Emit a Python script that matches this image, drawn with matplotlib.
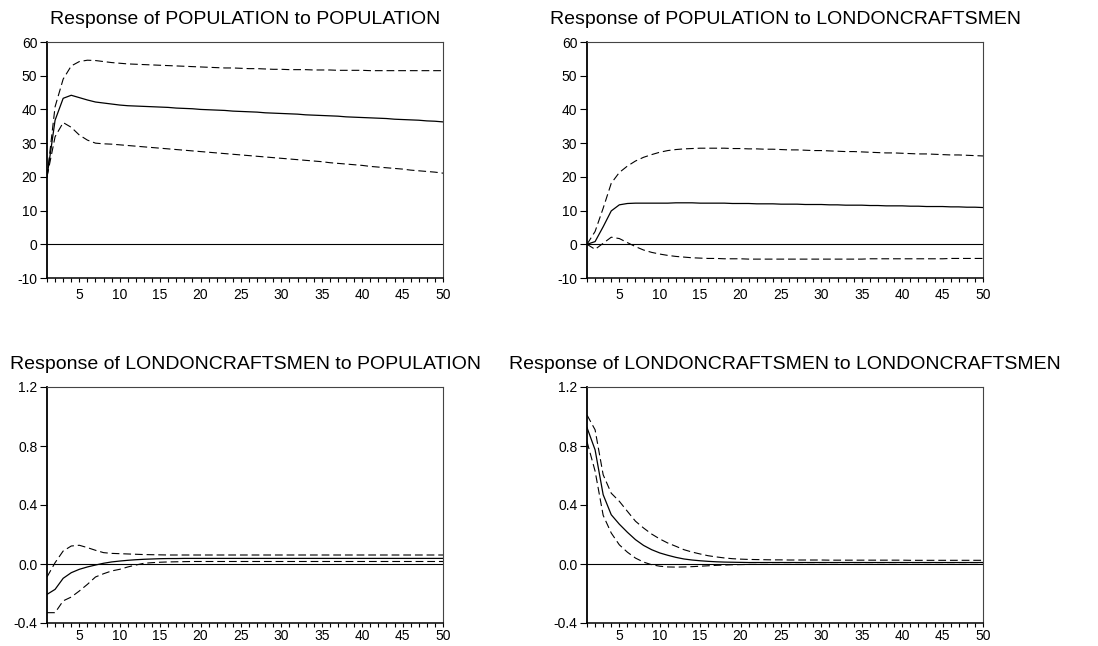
import matplotlib
matplotlib.use("Agg")
import matplotlib.pyplot as plt
from matplotlib.ticker import MultipleLocator, FixedLocator
import numpy as np

plt.rcParams["font.family"] = ["Liberation Sans", "DejaVu Sans"]
plt.rcParams["axes.unicode_minus"] = False

periods = np.arange(1, 51)

# Response of POPULATION to POPULATION
pop_pop = [20.0, 36.8, 43.3, 44.2, 43.5, 42.8, 42.2, 41.9, 41.6, 41.3,
           41.1, 41.0, 40.9, 40.8, 40.7, 40.6, 40.4, 40.3, 40.2, 40.0,
           39.9, 39.8, 39.7, 39.5, 39.4, 39.3, 39.2, 39.0, 38.9, 38.8,
           38.7, 38.6, 38.4, 38.3, 38.2, 38.1, 38.0, 37.8, 37.7, 37.6,
           37.5, 37.4, 37.3, 37.1, 37.0, 36.9, 36.8, 36.6, 36.5, 36.3]
pop_pop_hi = [20.0, 40.8, 49.0, 52.9, 54.2, 54.6, 54.5, 54.2, 53.9, 53.7,
              53.5, 53.4, 53.3, 53.2, 53.1, 53.0, 52.9, 52.8, 52.7, 52.6,
              52.5, 52.4, 52.3, 52.3, 52.2, 52.1, 52.1, 52.0, 51.9, 51.9,
              51.8, 51.8, 51.8, 51.7, 51.7, 51.7, 51.6, 51.6, 51.6, 51.6,
              51.5, 51.5, 51.5, 51.5, 51.5, 51.5, 51.5, 51.5, 51.5, 51.5]
pop_pop_lo = [20.0, 31.9, 36.1, 34.7, 32.4, 30.9, 30.0, 29.8, 29.7, 29.5,
              29.3, 29.1, 28.9, 28.7, 28.5, 28.3, 28.1, 27.9, 27.7, 27.5,
              27.3, 27.1, 26.9, 26.7, 26.5, 26.3, 26.1, 25.9, 25.7, 25.5,
              25.3, 25.1, 24.9, 24.7, 24.5, 24.2, 24.0, 23.8, 23.6, 23.4,
              23.1, 22.9, 22.7, 22.5, 22.3, 22.0, 21.8, 21.6, 21.4, 21.1]

# Response of POPULATION to LONDONCRAFTSMEN
pop_lon = [0.0, 0.8, 5.2, 9.9, 11.7, 12.1, 12.2, 12.2, 12.2, 12.2,
           12.2, 12.3, 12.3, 12.3, 12.2, 12.2, 12.2, 12.2, 12.1, 12.1,
           12.1, 12.0, 12.0, 12.0, 11.9, 11.9, 11.9, 11.8, 11.8, 11.8,
           11.7, 11.7, 11.6, 11.6, 11.6, 11.5, 11.5, 11.4, 11.4, 11.4,
           11.3, 11.3, 11.2, 11.2, 11.2, 11.1, 11.1, 11.0, 11.0, 10.9]
pop_lon_hi = [0.0, 3.8, 10.7, 18.1, 21.3, 23.2, 24.7, 25.8, 26.6, 27.3,
              27.8, 28.1, 28.3, 28.4, 28.5, 28.5, 28.5, 28.5, 28.4, 28.4,
              28.3, 28.3, 28.2, 28.2, 28.1, 28.0, 28.0, 27.9, 27.8, 27.8,
              27.7, 27.6, 27.5, 27.5, 27.4, 27.3, 27.2, 27.1, 27.1, 27.0,
              26.9, 26.8, 26.8, 26.7, 26.6, 26.5, 26.5, 26.4, 26.3, 26.2]
pop_lon_lo = [0.0, -1.5, 0.3, 2.1, 1.7, 0.5, -0.7, -1.7, -2.4, -2.9,
              -3.3, -3.6, -3.8, -4.0, -4.1, -4.2, -4.2, -4.3, -4.3, -4.3,
              -4.4, -4.4, -4.4, -4.4, -4.4, -4.4, -4.4, -4.4, -4.4, -4.4,
              -4.4, -4.4, -4.4, -4.4, -4.4, -4.3, -4.3, -4.3, -4.3, -4.3,
              -4.3, -4.3, -4.3, -4.3, -4.3, -4.2, -4.2, -4.2, -4.2, -4.2]

# Response of LONDONCRAFTSMEN to POPULATION
lon_pop = [-0.206, -0.172, -0.097, -0.059, -0.036, -0.020, -0.007, 0.005, 0.014, 0.020,
           0.025, 0.029, 0.032, 0.034, 0.036, 0.037, 0.037, 0.038, 0.038, 0.038,
           0.038, 0.038, 0.038, 0.038, 0.038, 0.038, 0.038, 0.038, 0.038, 0.038,
           0.038, 0.038, 0.038, 0.038, 0.038, 0.038, 0.038, 0.038, 0.038, 0.038,
           0.038, 0.038, 0.038, 0.038, 0.038, 0.038, 0.038, 0.038, 0.038, 0.038]
lon_pop_hi = [-0.088, 0.009, 0.088, 0.122, 0.127, 0.111, 0.093, 0.077, 0.072, 0.070,
              0.068, 0.066, 0.064, 0.063, 0.062, 0.061, 0.061, 0.061, 0.061, 0.061,
              0.061, 0.061, 0.061, 0.061, 0.061, 0.061, 0.061, 0.061, 0.061, 0.061,
              0.061, 0.061, 0.061, 0.061, 0.061, 0.061, 0.061, 0.061, 0.061, 0.061,
              0.061, 0.061, 0.061, 0.061, 0.061, 0.061, 0.061, 0.061, 0.061, 0.061]
lon_pop_lo = [-0.330, -0.330, -0.250, -0.224, -0.183, -0.138, -0.088, -0.066, -0.047, -0.036,
              -0.020, -0.007, 0.005, 0.009, 0.012, 0.014, 0.015, 0.016, 0.017, 0.017,
              0.017, 0.017, 0.017, 0.017, 0.017, 0.017, 0.017, 0.017, 0.017, 0.017,
              0.017, 0.017, 0.017, 0.017, 0.017, 0.017, 0.017, 0.017, 0.017, 0.017,
              0.017, 0.017, 0.017, 0.017, 0.017, 0.017, 0.017, 0.017, 0.017, 0.017]

# Response of LONDONCRAFTSMEN to LONDONCRAFTSMEN
lon_lon = [0.925, 0.774, 0.470, 0.334, 0.270, 0.215, 0.165, 0.126, 0.097, 0.075,
           0.059, 0.045, 0.034, 0.027, 0.022, 0.018, 0.015, 0.013, 0.012, 0.011,
           0.010, 0.010, 0.010, 0.010, 0.010, 0.010, 0.010, 0.010, 0.010, 0.010,
           0.010, 0.010, 0.010, 0.010, 0.010, 0.010, 0.010, 0.010, 0.010, 0.010,
           0.010, 0.010, 0.010, 0.010, 0.010, 0.010, 0.010, 0.010, 0.010, 0.010]
lon_lon_hi = [1.010, 0.910, 0.605, 0.480, 0.425, 0.357, 0.290, 0.244, 0.203, 0.170,
              0.142, 0.120, 0.097, 0.081, 0.068, 0.056, 0.048, 0.041, 0.036, 0.033,
              0.031, 0.030, 0.029, 0.028, 0.028, 0.027, 0.027, 0.027, 0.027, 0.027,
              0.026, 0.026, 0.026, 0.026, 0.026, 0.026, 0.026, 0.026, 0.026, 0.026,
              0.025, 0.025, 0.025, 0.025, 0.025, 0.025, 0.025, 0.025, 0.025, 0.025]
lon_lon_lo = [0.830, 0.630, 0.330, 0.210, 0.130, 0.080, 0.040, 0.013, -0.005, -0.015,
              -0.020, -0.021, -0.020, -0.018, -0.015, -0.012, -0.009, -0.007, -0.005, -0.004,
              -0.003, -0.003, -0.003, -0.003, -0.003, -0.003, -0.003, -0.003, -0.003, -0.003,
              -0.003, -0.003, -0.003, -0.003, -0.003, -0.003, -0.003, -0.003, -0.003, -0.003,
              -0.003, -0.003, -0.003, -0.003, -0.003, -0.003, -0.003, -0.003, -0.003, -0.003]

panels = [
    ("Response of POPULATION to POPULATION", pop_pop, pop_pop_lo, pop_pop_hi),
    ("Response of POPULATION to LONDONCRAFTSMEN", pop_lon, pop_lon_lo, pop_lon_hi),
    ("Response of LONDONCRAFTSMEN to POPULATION", lon_pop, lon_pop_lo, lon_pop_hi),
    ("Response of LONDONCRAFTSMEN to LONDONCRAFTSMEN", lon_lon, lon_lon_lo, lon_lon_hi),
]
top_yticks = [-10, 0, 10, 20, 30, 40, 50, 60]
bottom_yticks = [-0.4, 0.0, 0.4, 0.8, 1.2]

fig = plt.figure(figsize=(10.98, 6.46), dpi=100)
W, H = 1098, 646
boxes = [(47, 42), (587, 42), (47, 387), (587, 387)]  # left, top in pixels
aw, ah = 396, 236

dash = (0, (7, 3.5))
for i, ((title, mid, lo, hi), (l, t)) in enumerate(zip(panels, boxes)):
    ax = fig.add_axes([l / W, 1 - (t + ah) / H, aw / W, ah / H])
    ax.axhline(0, color="black", lw=0.8)
    ax.plot(periods, mid, color="black", lw=0.9)
    ax.plot(periods, hi, color="black", lw=0.8, linestyle=dash)
    ax.plot(periods, lo, color="black", lw=0.8, linestyle=dash)
    ax.set_xlim(1, 50)
    if i < 2:
        ax.set_ylim(-10, 60)
        ax.set_yticks(top_yticks)
        ax.set_yticklabels([str(v) for v in top_yticks])
    else:
        ax.set_ylim(-0.4, 1.2)
        ax.set_yticks(bottom_yticks)
        ax.set_yticklabels([f"{v:.1f}" for v in bottom_yticks])
    ax.xaxis.set_major_locator(FixedLocator(list(range(5, 51, 5))))
    ax.xaxis.set_minor_locator(MultipleLocator(1))
    ax.tick_params(axis="x", which="both", direction="out", length=3, width=0.8,
                   labelsize=10, pad=4 if i < 2 else 1.5)
    ax.tick_params(axis="y", which="major", direction="out", length=5, width=0.8,
                   labelsize=10, pad=2)
    for side in ("top", "right"):
        ax.spines[side].set_linewidth(0.8)
        ax.spines[side].set_color("#444444")
    ax.spines["left"].set_linewidth(1.3)
    ax.spines["bottom"].set_linewidth(1.1)
    ax.set_title(title, fontsize=14, pad=13)

fig.savefig("out.png", dpi=100)
